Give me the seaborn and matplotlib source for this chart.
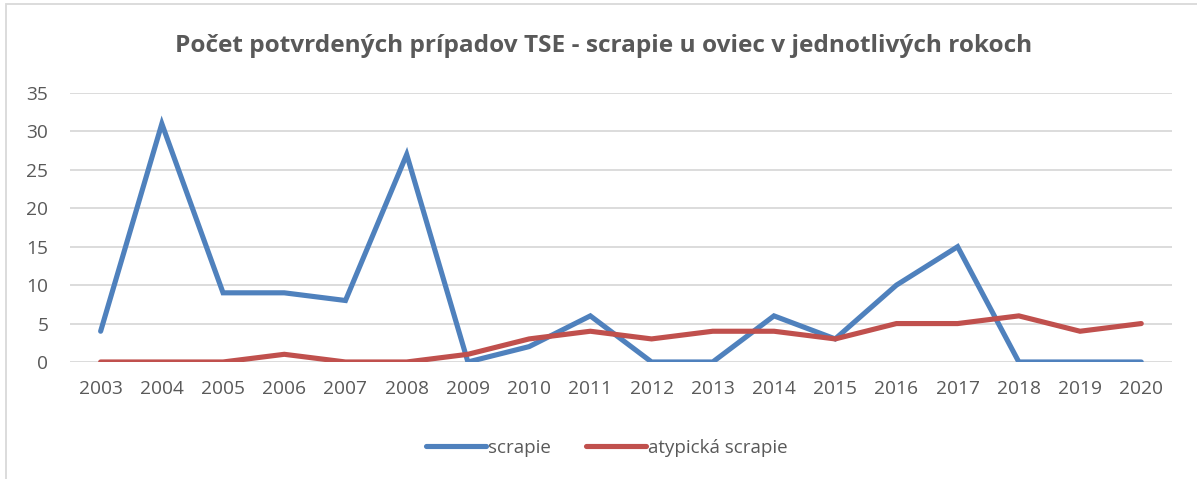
import matplotlib
matplotlib.use("Agg")
import matplotlib.pyplot as plt
import numpy as np
import pandas as pd
import seaborn as sns
from matplotlib.patches import Rectangle

years = list(range(2003, 2021))
scrapie = [4, 31, 9, 9, 8, 27, 0, 2, 6, 0, 0, 6, 3, 10, 15, 0, 0, 0]
atypical = [0, 0, 0, 1, 0, 0, 1, 3, 4, 3, 4, 4, 3, 5, 5, 6, 4, 5]
series_names = ["scrapie", "atypická scrapie"]
title = "Počet potvrdených prípadov TSE - scrapie u oviec v jednotlivých rokoch"

df = pd.DataFrame({
    "rok": [str(y) for y in years] * 2,
    "pocet": scrapie + atypical,
    "typ": [series_names[0]] * len(years) + [series_names[1]] * len(years),
})

sns.set_style("white")
plt.rcParams["font.family"] = ["Open Sans", "DejaVu Sans"]
grey = "#595959"

fig = plt.figure(figsize=(11.97, 4.79), dpi=100)
ax = fig.add_axes([0.0585, 0.2443, 0.9205, 0.5615])

sns.lineplot(data=df, x="rok", y="pocet", hue="typ", sort=False,
             palette=["#4F81BD", "#C0504D"], linewidth=3.7, ax=ax,
             solid_capstyle="round", solid_joinstyle="miter", legend=True)

ax.set_xlim(-0.5, len(years) - 0.5)
ax.set_ylim(0, 35)
ax.set_yticks(range(0, 36, 5))
ax.yaxis.grid(True, color="#D9D9D9", linewidth=1.3)
ax.set_axisbelow(True)
for s in ax.spines.values():
    s.set_visible(False)
ax.tick_params(axis="both", length=0, labelsize=13.8, colors=grey)
ax.tick_params(axis="y", pad=15.5)
ax.tick_params(axis="x", pad=13)
ax.set_xlabel("")
ax.set_ylabel("")

fig.text(0.504, 0.905, title, ha="center", va="center", fontsize=17.6,
         fontweight="bold", color=grey)

leg = ax.legend(loc="center", bbox_to_anchor=(0.487, -0.32), ncol=2, frameon=False,
                fontsize=13.5, handlelength=3.2, handletextpad=0.1, columnspacing=1.9)
for t in leg.get_texts():
    t.set_color(grey)

# outer chart frame
fig.patches.append(Rectangle((6 / 1197, -0.1), 1.2, 1 - 4 / 479 + 0.1,
                             transform=fig.transFigure, fill=False,
                             edgecolor="#D9D9D9", linewidth=1.3))

fig.savefig("out.png", dpi=100)
